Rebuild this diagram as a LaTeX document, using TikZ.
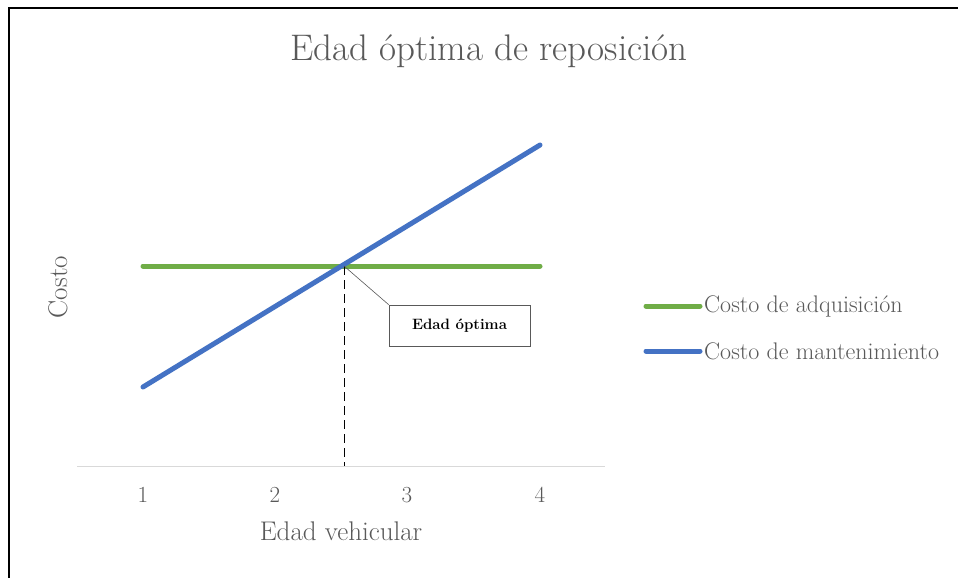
\documentclass[tikz,border=0pt]{standalone}
\usepackage{tikz}
\usetikzlibrary{arrows}
\definecolor{txtgray}{HTML}{595959}
\definecolor{axgray}{HTML}{D9D9D9}
\definecolor{adqgreen}{HTML}{70AD47}
\definecolor{mantblue}{HTML}{4472C4}

\begin{document}
\begin{tikzpicture}[x=1pt, y=-1pt,
  lbl/.style={text=txtgray, inner sep=0pt},
  serie/.style={line width=5pt, line cap=round}]
\useasboundingbox (0,0) rectangle (958,578);
\fill[white] (0,0) rectangle (958,578);
% frame
\draw[black, line width=2.2pt] (9,578) -- (9,8) -- (958,8);
\node[lbl, font=\fontsize{37}{42}\selectfont] (titulo) at (489,51) {Edad óptima de reposición};
% axis
\coordinate (ejeA) at (77,466);
\coordinate (ejeB) at (605,466);
\draw[axgray, line width=1pt] (ejeA) -- (ejeB);
\foreach \i/\x in {1/143, 2/275, 3/407, 4/540}
  \node[lbl, font=\fontsize{23}{26}\selectfont] (t\i) at (\x,495) {\i};
\node[lbl, font=\fontsize{27}{30}\selectfont] (xlab) at (341,531) {Edad vehicular};
\node[lbl, font=\fontsize{27}{30}\selectfont, rotate=90] (ylab) at (58,287) {Costo};
% series
\draw[serie, adqgreen] (143,266) -- (540,266);
\draw[serie, mantblue] (143,387) -- (540,145);
\coordinate (cruce) at (344,266);
\coordinate (base) at (344,466);
\draw[black, line width=1pt, dash pattern=on 9pt off 5pt] (cruce) -- (base);
% callout
\node[draw=txtgray, fill=white, line width=0.6pt, minimum width=141pt, minimum height=41pt,
  font=\bfseries\fontsize{15}{18}\selectfont] (optima) at (459.5,325.5) {Edad óptima};
\draw[txtgray, line width=0.6pt] (cruce) -- (optima.north west);
% legend
\draw[serie, adqgreen] (646,306) -- (700,306);
\node[lbl, anchor=west, font=\fontsize{24}{28}\selectfont] (leg1) at (704,306) {Costo de adquisición};
\draw[serie, mantblue] (646,351) -- (700,351);
\node[lbl, anchor=west, font=\fontsize{24}{28}\selectfont] (leg2) at (704,351) {Costo de mantenimiento};
\end{tikzpicture}
\end{document}
